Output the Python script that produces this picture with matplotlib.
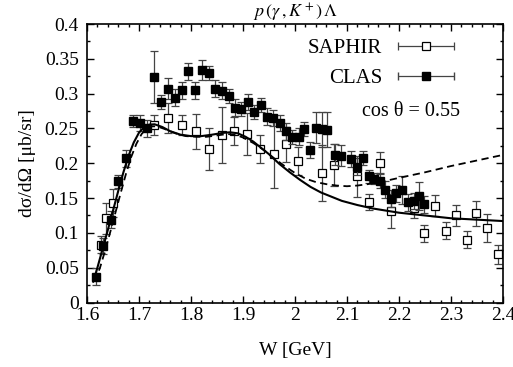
import numpy as np
import matplotlib
matplotlib.use("Agg")
import matplotlib.pyplot as plt
from matplotlib.container import ErrorbarContainer
from matplotlib.legend_handler import HandlerErrorbar
from matplotlib.ticker import MultipleLocator, FuncFormatter

plt.rcParams['font.family'] = ['Liberation Serif', 'DejaVu Serif']
plt.rcParams['mathtext.fontset'] = 'stix'

# CLAS data
clas_w = [1.617, 1.630, 1.646, 1.659, 1.675, 1.688, 1.702, 1.715, 1.729, 1.743,
          1.755, 1.769, 1.782, 1.795, 1.808, 1.821, 1.834, 1.847, 1.860, 1.873,
          1.885, 1.897, 1.910, 1.921, 1.934, 1.947, 1.958, 1.971, 1.983, 1.995,
          2.007, 2.018, 2.029, 2.040, 2.051, 2.062, 2.076, 2.088, 2.108, 2.119,
          2.131, 2.143, 2.152, 2.163, 2.173, 2.184, 2.195, 2.205, 2.217, 2.228,
          2.238, 2.249]
clas_y = [0.037, 0.081, 0.119, 0.174, 0.207, 0.261, 0.258, 0.250, 0.324, 0.288,
          0.307, 0.294, 0.305, 0.332, 0.305, 0.334, 0.329, 0.307, 0.304, 0.296,
          0.280, 0.278, 0.288, 0.274, 0.284, 0.267, 0.265, 0.258, 0.246, 0.238,
          0.238, 0.249, 0.219, 0.251, 0.249, 0.248, 0.212, 0.211, 0.206, 0.195,
          0.207, 0.181, 0.178, 0.175, 0.162, 0.149, 0.157, 0.161, 0.144, 0.146,
          0.153, 0.141]
clas_err = [0.012, 0.012, 0.012, 0.009, 0.012, 0.009, 0.012, 0.012, 0.037, 0.010,
            0.015, 0.012, 0.012, 0.012, 0.012, 0.015, 0.010, 0.012, 0.012, 0.010,
            0.012, 0.010, 0.012, 0.010, 0.010, 0.012, 0.012, 0.012, 0.012, 0.010,
            0.012, 0.010, 0.012, 0.022, 0.025, 0.025, 0.015, 0.015, 0.012, 0.012,
            0.010, 0.010, 0.008, 0.010, 0.012, 0.012, 0.012, 0.020, 0.012, 0.012,
            0.020, 0.012]

# SAPHIR data
saphir_w = [1.626, 1.637, 1.650, 1.729, 1.755, 1.783, 1.809, 1.835, 1.859, 1.883,
            1.908, 1.933, 1.959, 1.982, 2.005, 2.051, 2.075, 2.119, 2.143, 2.163,
            2.184, 2.228, 2.248, 2.269, 2.290, 2.310, 2.330, 2.349, 2.370, 2.391]
saphir_y = [0.083, 0.121, 0.1425, 0.255, 0.265, 0.255, 0.246, 0.220, 0.241, 0.246,
            0.2415, 0.220, 0.213, 0.227, 0.203, 0.186, 0.197, 0.181, 0.1445, 0.201,
            0.1315, 0.136, 0.0995, 0.139, 0.103, 0.125, 0.090, 0.128, 0.1065, 0.069]
saphir_err = [0.012, 0.022, 0.020, 0.015, 0.021, 0.015, 0.025, 0.030, 0.040, 0.020,
              0.030, 0.020, 0.048, 0.025, 0.020, 0.040, 0.030, 0.030, 0.012, 0.015,
              0.025, 0.015, 0.012, 0.015, 0.012, 0.015, 0.012, 0.018, 0.020, 0.014]

# model curves
solid_w = [1.612, 1.620, 1.630, 1.640, 1.650, 1.660, 1.670, 1.680, 1.690, 1.700,
           1.710, 1.720, 1.730, 1.745, 1.760, 1.780, 1.800, 1.820, 1.840, 1.860,
           1.875, 1.890, 1.905, 1.920, 1.935, 1.950, 1.970, 1.990, 2.010, 2.030,
           2.050, 2.070, 2.090, 2.120, 2.150, 2.200, 2.250, 2.300, 2.350, 2.400]
solid_y = [0.030, 0.050, 0.077, 0.104, 0.132, 0.160, 0.187, 0.211, 0.230, 0.244,
           0.252, 0.2555, 0.256, 0.252, 0.246, 0.241, 0.239, 0.239, 0.241, 0.2435,
           0.2445, 0.243, 0.238, 0.231, 0.222, 0.213, 0.199, 0.187, 0.176, 0.166,
           0.158, 0.152, 0.146, 0.140, 0.135, 0.129, 0.125, 0.121, 0.119, 0.117]
dashed_w = [1.615, 1.625, 1.635, 1.645, 1.655, 1.665, 1.675, 1.685, 1.695, 1.705,
            1.715, 1.725, 1.735, 1.750, 1.770, 1.790, 1.810, 1.830, 1.850, 1.870,
            1.885, 1.900, 1.920, 1.940, 1.960, 1.980, 2.000, 2.020, 2.040, 2.060,
            2.080, 2.100, 2.120, 2.140, 2.170, 2.200, 2.250, 2.300, 2.350, 2.400]
dashed_y = [0.030, 0.050, 0.075, 0.102, 0.130, 0.158, 0.185, 0.209, 0.228, 0.242,
            0.250, 0.253, 0.253, 0.249, 0.243, 0.239, 0.238, 0.238, 0.240, 0.242,
            0.241, 0.237, 0.229, 0.219, 0.207, 0.196, 0.186, 0.178, 0.173, 0.170,
            0.168, 0.167, 0.168, 0.170, 0.174, 0.179, 0.187, 0.196, 0.204, 0.212]

fig = plt.figure(figsize=(5.13, 3.67), dpi=100)
ax = fig.add_axes([0.1696, 0.1757, 0.8109, 0.7589])

ebar_col = '#444444'
ax.errorbar(saphir_w, saphir_y, yerr=saphir_err, fmt='s', ms=5.5, mfc='white',
            mec='black', mew=0.9, ecolor=ebar_col, elinewidth=0.9, capsize=3,
            capthick=0.9, zorder=2)
ax.errorbar(clas_w, clas_y, yerr=clas_err, fmt='s', ms=6.3, mfc='black',
            mec='black', ecolor=ebar_col, elinewidth=0.9, capsize=3,
            capthick=0.9, zorder=3)
ax.plot(solid_w, solid_y, color='black', lw=1.5, zorder=4)
ax.plot(dashed_w, dashed_y, color='black', lw=1.3, ls=(0, (4, 2.5)), zorder=4)

# legend proxies with horizontal bars (gnuplot style)
h1 = ax.errorbar([np.nan], [np.nan], xerr=[1], fmt='s', ms=5.5, mfc='white',
                 mec='black', mew=0.9, ecolor=ebar_col, elinewidth=0.9, capsize=3)
h2 = ax.errorbar([np.nan], [np.nan], xerr=[1], fmt='s', ms=6.3, mfc='black',
                 mec='black', ecolor=ebar_col, elinewidth=0.9, capsize=3)
ax.legend([h1, h2], ['SAPHIR', 'CLAS'], loc='upper right',
          bbox_to_anchor=(0.91, 0.985), frameon=False, markerfirst=False,
          fontsize=15, handlelength=2.8, handletextpad=0.7, labelspacing=0.5,
          borderpad=0, numpoints=1,
          handler_map={ErrorbarContainer: HandlerErrorbar(xerr_size=1.33)})

ax.text(0.779, 0.685, 'cos θ = 0.55', transform=ax.transAxes,
        ha='center', va='center', fontsize=14.5)

ax.set_xlim(1.6, 2.4)
ax.set_ylim(0, 0.4)
ax.xaxis.set_major_locator(MultipleLocator(0.1))
ax.xaxis.set_minor_locator(MultipleLocator(0.02))
ax.yaxis.set_major_locator(MultipleLocator(0.05))
ax.yaxis.set_minor_locator(MultipleLocator(0.025))
ax.xaxis.set_major_formatter(FuncFormatter(lambda v, p: '%g' % round(v, 3)))
ax.yaxis.set_major_formatter(FuncFormatter(lambda v, p: '%g' % round(v, 3)))
ax.tick_params(which='both', direction='in', top=True, right=True, labelsize=14,
               width=1.0)
ax.tick_params(which='major', length=5)
ax.tick_params(which='minor', length=2.5)
ax.tick_params(axis='x', pad=3)
ax.tick_params(axis='y', pad=6)
for s in ax.spines.values():
    s.set_linewidth(1.2)

ax.set_xlabel('W [GeV]', fontsize=14, labelpad=13)
ax.set_ylabel('dσ/dΩ [μb/sr]', fontsize=14, labelpad=6)
ax.set_title(r'$p\,(\gamma\,,K^+)\,\Lambda$', fontsize=13, pad=3)

fig.savefig('out.png', dpi=100)
